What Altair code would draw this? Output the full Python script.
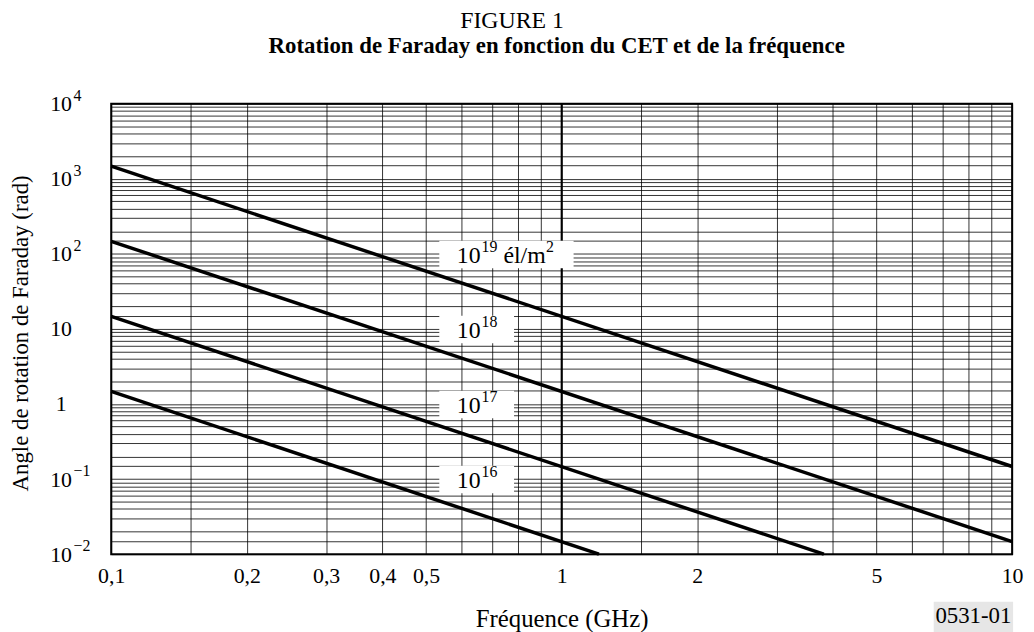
import json
import altair as alt
import pandas as pd

# ---- data ----
line_tec = ["1e19", "1e19", "1e18", "1e18", "1e17", "1e17", "1e16", "1e16"]
line_freq = [0.1, 10, 0.1, 10, 0.1, 3.82, 0.1, 1.21]
line_angle = [1470, 0.147, 147, 0.0147, 14.7, 0.01, 1.47, 0.01]

label_base = ["10", "10", "10", "10"]
label_sup = ["19", "18", "17", "16"]
label_angle = [100, 10, 1, 0.1]
label_freq = [0.585, 0.585, 0.585, 0.585]
box_f1 = [0.535, 0.535, 0.535, 0.535]
box_f2 = [1.063, 0.784, 0.784, 0.784]
unit_text = ["él/m"]
unit_sup = ["2"]
unit_angle = [100]
unit_freq = [0.585]

mantissas = [1, 1.5, 2, 3, 4, 5, 6, 7, 8, 9]
x_decades = [0.1, 1]
y_decades = [0.01, 0.1, 1, 10, 100, 1000]
x_labeled = [0.1, 0.2, 0.3, 0.4, 0.5, 1, 2, 5, 10]
y_labeled = [0.01, 0.1, 1, 10, 100, 1000, 10000]
y_label_base = ["10", "10", "1", "10", "10", "10", "10"]
y_label_sup = ["\u22122", "\u22121", "", "", "2", "3", "4"]
emph_freq = [1]

x_grid = [round(m * d, 6) for d in x_decades for m in mantissas] + [10]
y_grid = [round(m * d, 6) for d in y_decades for m in mantissas] + [10000]

FONT = "Liberation Serif"
W, H = 908, 454

lines_df = pd.DataFrame({"tec": line_tec, "f": line_freq, "a": line_angle})
labels_df = pd.DataFrame({
    "base": label_base, "sup": label_sup, "f": label_freq, "a": label_angle,
    "f1": box_f1, "f2": box_f2,
    "a1": [v * 1.5 for v in label_angle], "a2": [v / 1.55 for v in label_angle],
})
unit_df = pd.DataFrame({"t": unit_text, "s": unit_sup, "f": unit_freq, "a": unit_angle})
ysup_df = pd.DataFrame({"v": y_labeled, "s": y_label_sup})

xscale = alt.Scale(type="log", domain=[0.1, 10], nice=False)
yscale = alt.Scale(type="log", domain=[0.01, 10000], nice=False)

x_expr = (f"indexof({json.dumps(x_labeled)}, datum.value) >= 0 ? "
          f"replace(toString(datum.value), '.', ',') : ''")
y_expr = (f"indexof({json.dumps(y_labeled)}, datum.value) >= 0 ? "
          f"{json.dumps(y_label_base)}[indexof({json.dumps(y_labeled)}, datum.value)] : ''")

xaxis = alt.Axis(
    values=x_grid, grid=True, gridColor="black", gridOpacity=0.8, gridWidth=1,
    ticks=False, tickSize=0, domain=False, labelExpr=x_expr,
    labelFont=FONT, labelFontSize=22, labelColor="black", labelPadding=12,
    labelOverlap=False, labelFlush=False, labelBound=False,
    title="Fréquence (GHz)", titleFont=FONT, titleFontSize=25,
    titleFontWeight="normal", titleColor="black",
    titleX=W / 2, titleY=65, titleBaseline="middle", titleAlign="center",
)
yaxis = alt.Axis(
    values=y_grid, grid=True, gridColor="black", gridOpacity=0.8, gridWidth=1,
    ticks=False, tickSize=0, domain=False, labelExpr=y_expr,
    labelFont=FONT, labelFontSize=22, labelColor="black", labelPadding=51,
    labelAlign="center", labelBaseline="middle",
    labelOverlap=False, labelFlush=False, labelBound=False,
    title="Angle de rotation de Faraday (rad)", titleFont=FONT, titleFontSize=23,
    titleFontWeight="normal", titleColor="black",
    titleX=-91, titleY=231, titleAngle=270, titleBaseline="middle", titleAlign="center",
)

lines = alt.Chart(lines_df).mark_line(color="black", strokeWidth=3.5).encode(
    x=alt.X("f:Q", scale=xscale, axis=xaxis),
    y=alt.Y("a:Q", scale=yscale, axis=yaxis),
    detail="tec:N",
)

ysup = alt.Chart(ysup_df).mark_text(
    font=FONT, fontSize=16, align="left", baseline="middle", color="black", dy=-8
).encode(x=alt.value(-38), y=alt.Y("v:Q", scale=yscale), text="s:N")

emph = alt.Chart(pd.DataFrame({"f": emph_freq})).mark_rule(color="black", strokeWidth=2).encode(
    x=alt.X("f:Q", scale=xscale)
)

boxes = alt.Chart(labels_df).mark_rect(fill="white").encode(
    x=alt.X("f1:Q", scale=xscale), x2="f2:Q",
    y=alt.Y("a1:Q", scale=yscale), y2="a2:Q",
)
tbase = alt.Chart(labels_df).mark_text(
    font=FONT, fontSize=24, align="left", baseline="middle", color="black", dy=2
).encode(x=alt.X("f:Q", scale=xscale), y=alt.Y("a:Q", scale=yscale), text="base:N")
tsup = alt.Chart(labels_df).mark_text(
    font=FONT, fontSize=16, align="left", baseline="middle", color="black", dx=25, dy=-7
).encode(x=alt.X("f:Q", scale=xscale), y=alt.Y("a:Q", scale=yscale), text="sup:N")
tunit = alt.Chart(unit_df).mark_text(
    font=FONT, fontSize=24, align="left", baseline="middle", color="black", dx=47, dy=2
).encode(x=alt.X("f:Q", scale=xscale), y=alt.Y("a:Q", scale=yscale), text="t:N")
tunit_sup = alt.Chart(unit_df).mark_text(
    font=FONT, fontSize=16, align="left", baseline="middle", color="black", dx=90, dy=-7
).encode(x=alt.X("f:Q", scale=xscale), y=alt.Y("a:Q", scale=yscale), text="s:N")

fig = alt.Chart(pd.DataFrame({"t": ["FIGURE 1"]})).mark_text(
    font=FONT, fontSize=24, align="center", baseline="middle", color="black"
).encode(x=alt.value(404), y=alt.value(-83), text="t:N")

ttl = alt.Chart(pd.DataFrame({"t": ["Rotation de Faraday en fonction du CET et de la  fréquence"]})).mark_text(
    font=FONT, fontSize=23, fontWeight="bold", align="center", baseline="middle", color="black"
).encode(x=alt.value(449), y=alt.value(-58), text="t:N")

ref_box = alt.Chart(pd.DataFrame({"t": ["0531-01"]})).mark_rect(fill="#e6e6e6").encode(
    x=alt.value(829), x2=alt.value(909), y=alt.value(502), y2=alt.value(534)
)
ref_txt = alt.Chart(pd.DataFrame({"t": ["0531-01"]})).mark_text(
    font=FONT, fontSize=23, align="center", baseline="middle", color="black"
).encode(x=alt.value(869), y=alt.value(516), text="t:N")

chart = alt.layer(
    emph, lines, ysup, boxes, tbase, tsup, tunit, tunit_sup, fig, ttl, ref_box, ref_txt
).properties(
    width=W, height=H,
    autosize=alt.AutoSizeParams(type="none"),
    padding={"left": 104, "top": 94, "right": 14, "bottom": 76},
).configure_view(stroke="black", strokeWidth=2)

chart.save("out.html", embed_options={"renderer": "svg", "actions": False})
